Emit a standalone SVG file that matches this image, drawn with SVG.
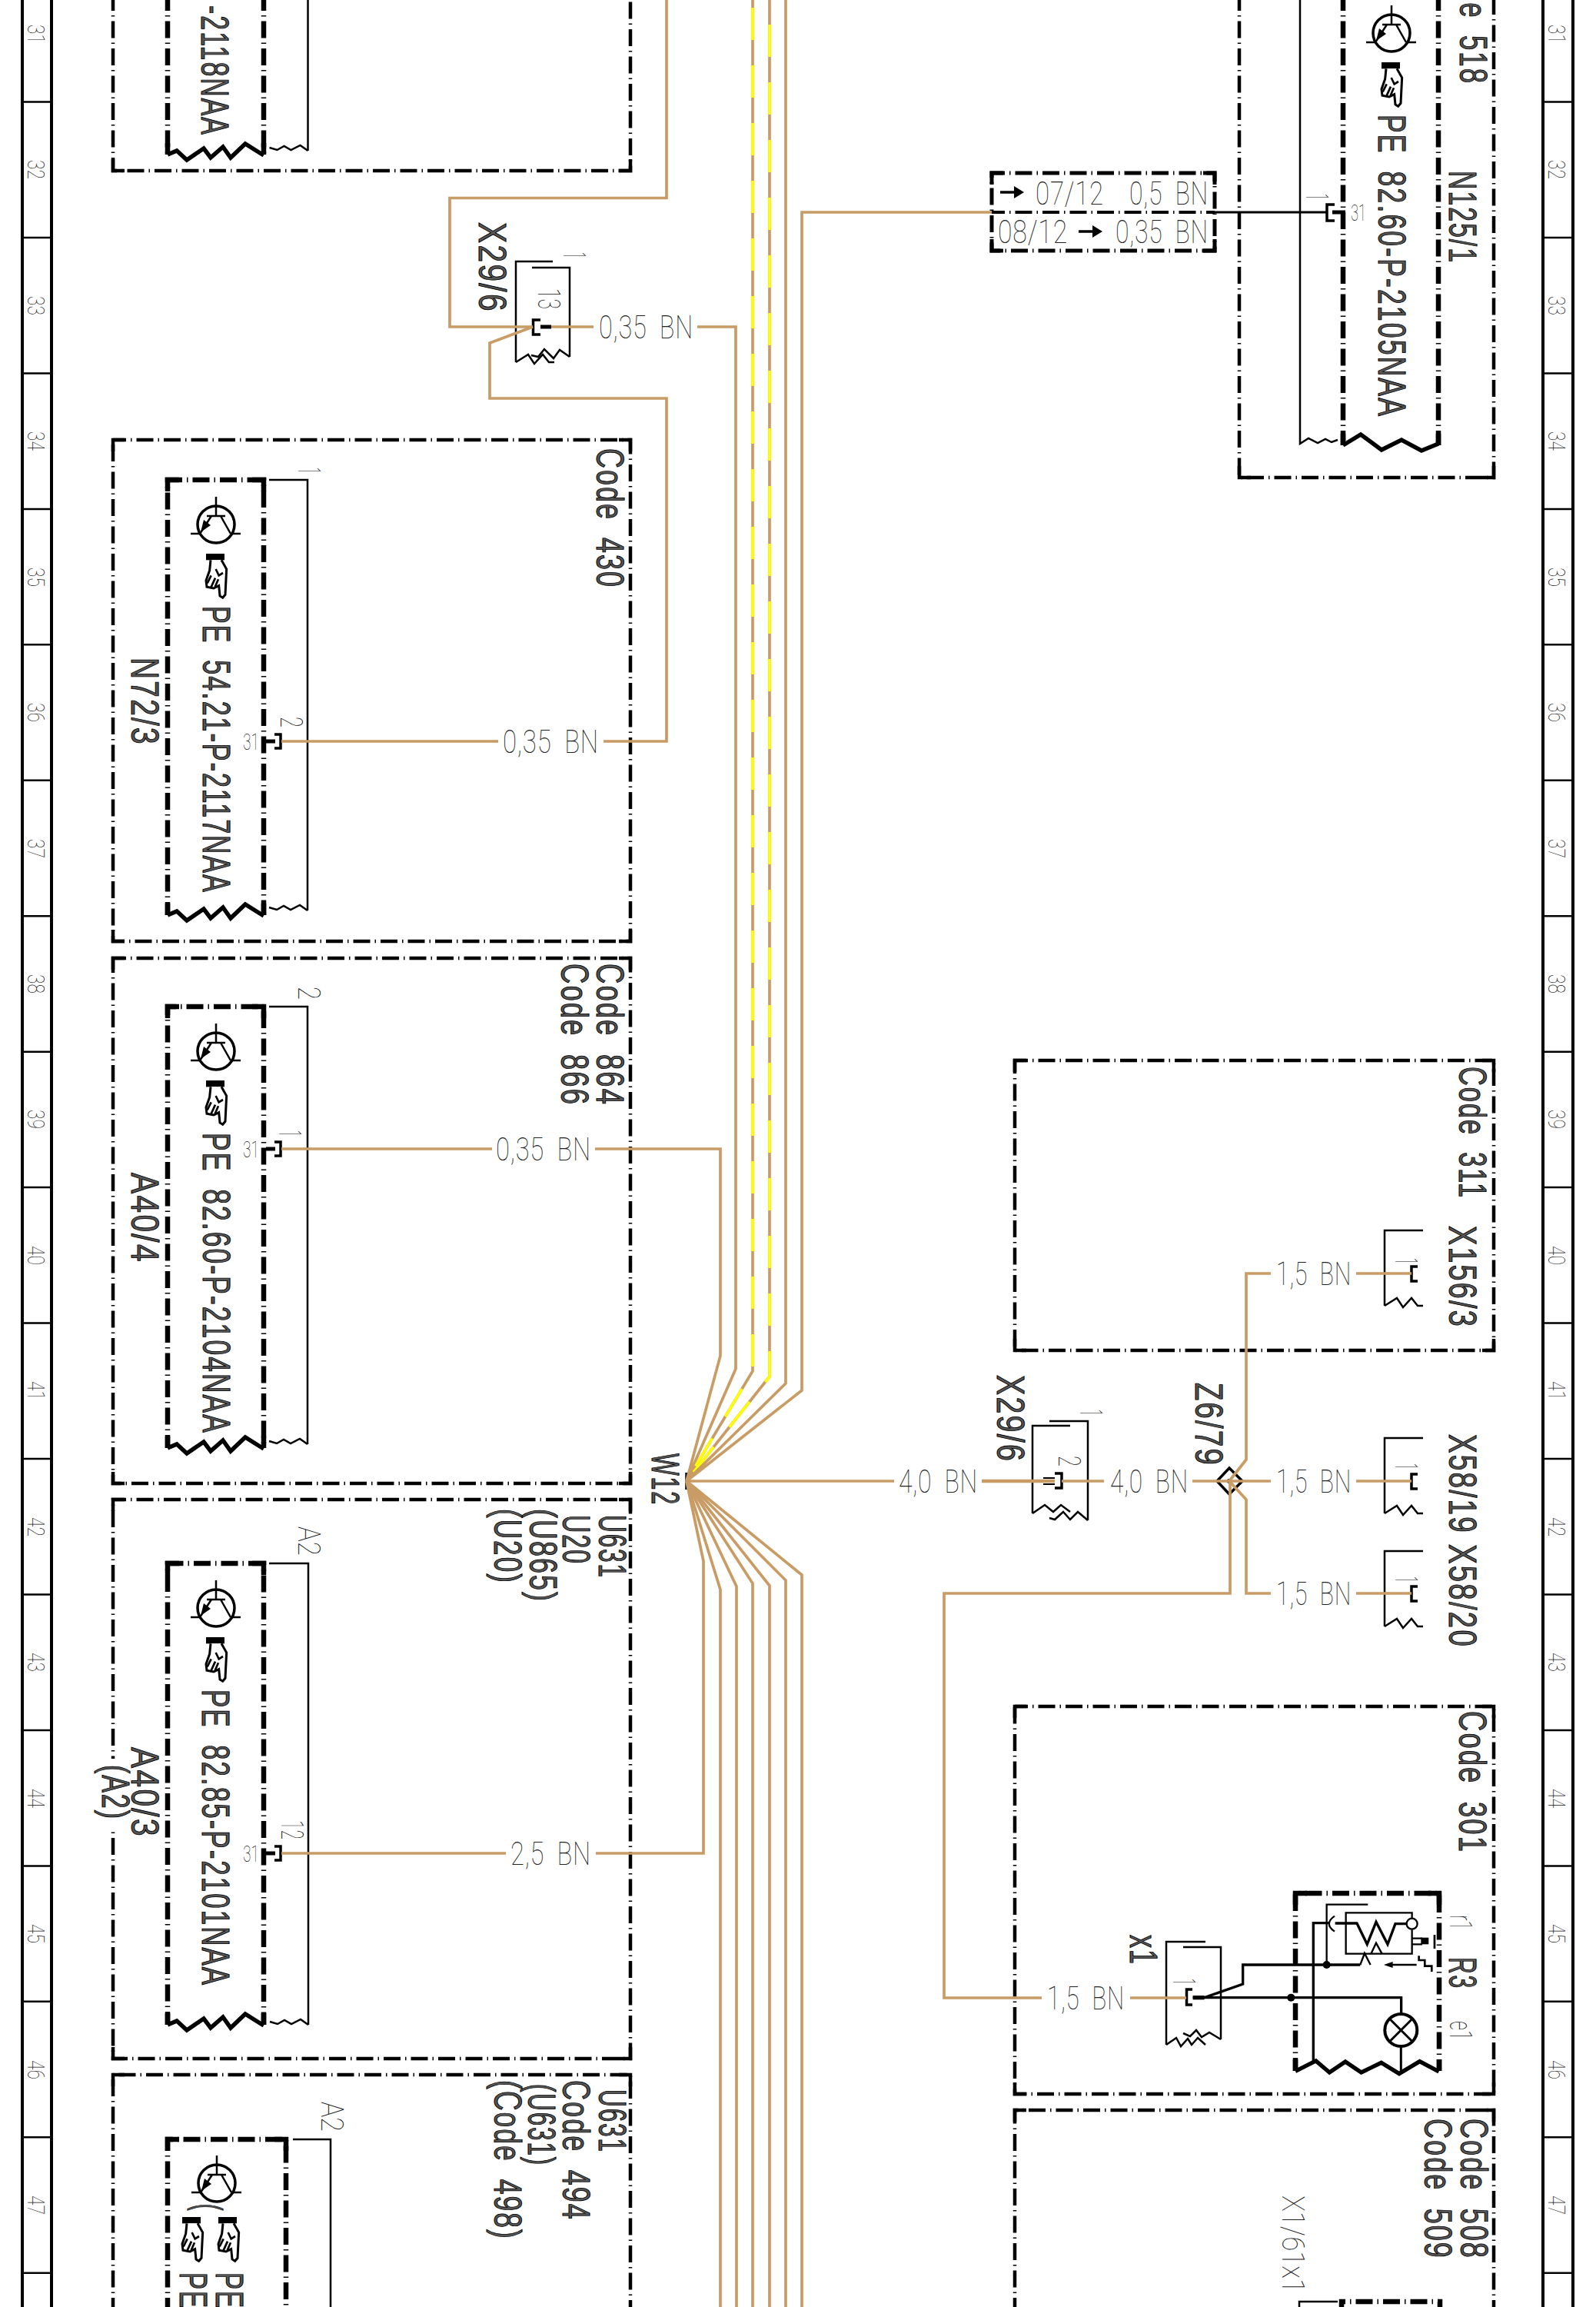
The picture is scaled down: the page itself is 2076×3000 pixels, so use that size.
<svg xmlns="http://www.w3.org/2000/svg" xmlns:xlink="http://www.w3.org/1999/xlink" width="2076" height="3000" viewBox="0 0 2076 3000">
<style>
text{font-family:"Liberation Sans",Arial,sans-serif}
.b{font-size:50px;fill:#555;stroke:#000;stroke-width:1;letter-spacing:3px;word-spacing:14px}
.t{font-family:Roboto,"Liberation Sans",sans-serif;font-weight:100;font-size:42px;fill:#222;letter-spacing:1px;word-spacing:10px}
.g{font-family:Roboto,"Liberation Sans",sans-serif;font-weight:100;font-size:31px;fill:#222}
.n{font-family:Roboto,"Liberation Sans",sans-serif;font-weight:100;font-size:40px;fill:#222}
.k{fill:none;stroke:#000;stroke-width:2.5}
.ob{fill:none;stroke:#000;stroke-width:4.5;stroke-dasharray:22 6 1.5 6;stroke-dashoffset:5}
.ib{fill:none;stroke:#000;stroke-width:6.5;stroke-dasharray:22 6 1.5 6;stroke-dashoffset:5}
.oc{fill:none;stroke:#000;stroke-width:4.5}
.ic{fill:none;stroke:#000;stroke-width:6.5}
.z{fill:none;stroke:#000;stroke-width:5.5}
.w{fill:none;stroke:#c99c66;stroke-width:3.7}
.w2{fill:none;stroke:#c99c66;stroke-width:4.5}
.y{fill:none;stroke:#ff0;stroke-width:3.7;stroke-dasharray:42 33}
.bar{fill:none;stroke:#000;stroke-width:3.5}
.tab{fill:none;stroke:#000;stroke-width:5}
</style>
<defs>
<g id="tr">
<circle r="24" fill="none" stroke="#000" stroke-width="3.5"/>
<path d="M0,-36V-11M-12,-11H12M-6,-11L-21,12M6,-11L19,12M-33,12H-21M19,12H32" fill="none" stroke="#000" stroke-width="2.5"/>
<path d="M-20,10L-16,-6L-7,1Z" fill="#000"/>
</g>
<g id="hand" transform="scale(.3333)">
<rect x="0" y="0" width="72" height="25" fill="#000"/>
<path d="M18,25L14,65L0,105L3,130L30,135L50,125L54,165L65,172L75,160L78,100L80,60L60,25" fill="#fff" stroke="#000" stroke-width="9"/>
<path d="M20,85L5,115M36,95L20,130M48,100L35,130M38,60L50,85L66,75" fill="none" stroke="#000" stroke-width="8"/>
</g>
<path id="zz" d="M0,0L12,-5L25,7L47,-8L56,4L72,-10L82,4L101,-14L125,1" class="z"/>
<path id="tz" d="M0,0L-10,-7L-22,-1L-31,-6L-40,-1L-50,-4" class="k"/>
<path id="sz" d="M0,0L16,-10L24,2L35,-10L43,0H50" class="k"/>
<g id="pin"><path d="M346,0H358" class="tab"/><path d="M357,-9H365V9H357" class="bar"/></g>
</defs>

<g id="frame-left">
<path d="M29,0V3000M67,0V3000" fill="none" stroke="#000" stroke-width="4"/>
<path d="M29,132.5H67M29,309H67M29,485.4H67M29,661.9H67M29,838.3H67M29,1014.8H67M29,1191.2H67M29,1367.7H67M29,1544.1H67M29,1720.6H67M29,1897H67M29,2073.5H67M29,2249.9H67M29,2426.4H67M29,2602.8H67M29,2779.3H67M29,2955.7H67" fill="none" stroke="#000" stroke-width="2.5"/>
<g class="grid">
<text class="g" transform="translate(36,32) rotate(90)" textLength="25" lengthAdjust="spacingAndGlyphs">31</text>
<text class="g" transform="translate(36,208) rotate(90)" textLength="25" lengthAdjust="spacingAndGlyphs">32</text>
<text class="g" transform="translate(36,385) rotate(90)" textLength="25" lengthAdjust="spacingAndGlyphs">33</text>
<text class="g" transform="translate(36,561) rotate(90)" textLength="25" lengthAdjust="spacingAndGlyphs">34</text>
<text class="g" transform="translate(36,738) rotate(90)" textLength="25" lengthAdjust="spacingAndGlyphs">35</text>
<text class="g" transform="translate(36,914) rotate(90)" textLength="25" lengthAdjust="spacingAndGlyphs">36</text>
<text class="g" transform="translate(36,1091) rotate(90)" textLength="25" lengthAdjust="spacingAndGlyphs">37</text>
<text class="g" transform="translate(36,1267) rotate(90)" textLength="25" lengthAdjust="spacingAndGlyphs">38</text>
<text class="g" transform="translate(36,1443) rotate(90)" textLength="25" lengthAdjust="spacingAndGlyphs">39</text>
<text class="g" transform="translate(36,1620) rotate(90)" textLength="25" lengthAdjust="spacingAndGlyphs">40</text>
<text class="g" transform="translate(36,1796) rotate(90)" textLength="25" lengthAdjust="spacingAndGlyphs">41</text>
<text class="g" transform="translate(36,1973) rotate(90)" textLength="25" lengthAdjust="spacingAndGlyphs">42</text>
<text class="g" transform="translate(36,2149) rotate(90)" textLength="25" lengthAdjust="spacingAndGlyphs">43</text>
<text class="g" transform="translate(36,2326) rotate(90)" textLength="25" lengthAdjust="spacingAndGlyphs">44</text>
<text class="g" transform="translate(36,2502) rotate(90)" textLength="25" lengthAdjust="spacingAndGlyphs">45</text>
<text class="g" transform="translate(36,2679) rotate(90)" textLength="25" lengthAdjust="spacingAndGlyphs">46</text>
<text class="g" transform="translate(36,2855) rotate(90)" textLength="25" lengthAdjust="spacingAndGlyphs">47</text>
</g>
</g>

<g id="frame-right">
<path d="M2046,0V3000M2007,0V3000" fill="none" stroke="#000" stroke-width="4"/>
<path d="M2007,132.5H2046M2007,309H2046M2007,485.4H2046M2007,661.9H2046M2007,838.3H2046M2007,1014.8H2046M2007,1191.2H2046M2007,1367.7H2046M2007,1544.1H2046M2007,1720.6H2046M2007,1897H2046M2007,2073.5H2046M2007,2249.9H2046M2007,2426.4H2046M2007,2602.8H2046M2007,2779.3H2046M2007,2955.7H2046" fill="none" stroke="#000" stroke-width="2.5"/>
<g class="grid">
<text class="g" transform="translate(2014,32) rotate(90)" textLength="25" lengthAdjust="spacingAndGlyphs">31</text>
<text class="g" transform="translate(2014,208) rotate(90)" textLength="25" lengthAdjust="spacingAndGlyphs">32</text>
<text class="g" transform="translate(2014,385) rotate(90)" textLength="25" lengthAdjust="spacingAndGlyphs">33</text>
<text class="g" transform="translate(2014,561) rotate(90)" textLength="25" lengthAdjust="spacingAndGlyphs">34</text>
<text class="g" transform="translate(2014,738) rotate(90)" textLength="25" lengthAdjust="spacingAndGlyphs">35</text>
<text class="g" transform="translate(2014,914) rotate(90)" textLength="25" lengthAdjust="spacingAndGlyphs">36</text>
<text class="g" transform="translate(2014,1091) rotate(90)" textLength="25" lengthAdjust="spacingAndGlyphs">37</text>
<text class="g" transform="translate(2014,1267) rotate(90)" textLength="25" lengthAdjust="spacingAndGlyphs">38</text>
<text class="g" transform="translate(2014,1443) rotate(90)" textLength="25" lengthAdjust="spacingAndGlyphs">39</text>
<text class="g" transform="translate(2014,1620) rotate(90)" textLength="25" lengthAdjust="spacingAndGlyphs">40</text>
<text class="g" transform="translate(2014,1796) rotate(90)" textLength="25" lengthAdjust="spacingAndGlyphs">41</text>
<text class="g" transform="translate(2014,1973) rotate(90)" textLength="25" lengthAdjust="spacingAndGlyphs">42</text>
<text class="g" transform="translate(2014,2149) rotate(90)" textLength="25" lengthAdjust="spacingAndGlyphs">43</text>
<text class="g" transform="translate(2014,2326) rotate(90)" textLength="25" lengthAdjust="spacingAndGlyphs">44</text>
<text class="g" transform="translate(2014,2502) rotate(90)" textLength="25" lengthAdjust="spacingAndGlyphs">45</text>
<text class="g" transform="translate(2014,2679) rotate(90)" textLength="25" lengthAdjust="spacingAndGlyphs">46</text>
<text class="g" transform="translate(2014,2855) rotate(90)" textLength="25" lengthAdjust="spacingAndGlyphs">47</text>
</g>
</g>

<g id="N2118">
<path class="ob" d="M147,-3V222H820V-3"/>
<path class="oc" d="M147,207V222H162M805,222H820V207"/>
<path class="ib" d="M218,-3V201M343,-3V201"/>
<path class="ic" d="M218,186V201M343,186V201"/>
<use xlink:href="#zz" href="#zz" x="218" y="201"/>
<path class="k" d="M400.5,-3V196"/>
<use xlink:href="#tz" href="#tz" x="400.5" y="196"/>
<text class="b" transform="translate(262,7) rotate(90)" textLength="170" lengthAdjust="spacingAndGlyphs">-2118NAA</text>
</g>

<g id="X29-6">
<path class="k" d="M719,340H671V471"/>
<use xlink:href="#sz" href="#sz" x="671" y="471"/>
<path class="k" d="M692,348H741V464"/>
<path class="k" d="M741,464L728,455L720,466L708,454L700,464L691,462"/>
<path d="M703,416H693.5V435H703" class="bar"/>
<path d="M703,425H717" class="tab"/>
<text class="n" transform="translate(700,375) rotate(90)" textLength="27" lengthAdjust="spacingAndGlyphs">13</text>
<text class="n" transform="translate(733,328) rotate(90)" textLength="8" lengthAdjust="spacingAndGlyphs">1</text>
<text class="b" transform="translate(623,289) rotate(90)" textLength="118" lengthAdjust="spacingAndGlyphs">X29/6</text>
</g>

<g id="N72-3">
<path class="ob" d="M147,572H820V1224H147Z"/>
<path class="oc" d="M147,587V572H162M805,572H820V587M147,1209V1224H162M805,1224H820V1209"/>
<path class="ib" d="M218,1190V624H343V1190"/>
<path class="ic" d="M218,639V624H233M328,624H343V639M218,1175V1190M343,1175V1190"/>
<use xlink:href="#zz" href="#zz" x="218" y="1190"/>
<path class="k" d="M350,624H400V1184"/>
<use xlink:href="#tz" href="#tz" x="400" y="1184"/>
<use xlink:href="#tr" href="#tr" x="281" y="682"/>
<use xlink:href="#hand" href="#hand" transform="translate(268,720)"/>
<use xlink:href="#pin" href="#pin" y="964"/>
<text class="b" transform="translate(264,788) rotate(90)" textLength="374" lengthAdjust="spacingAndGlyphs">PE 54.21-P-2117NAA</text>
<text class="b" transform="translate(776,583) rotate(90)" textLength="182" lengthAdjust="spacingAndGlyphs">Code 430</text>
<text class="b" transform="translate(171,855) rotate(90)" textLength="115" lengthAdjust="spacingAndGlyphs">N72/3</text>
<text class="n" transform="translate(388,608) rotate(90)" textLength="8" lengthAdjust="spacingAndGlyphs">1</text>
<text class="n" transform="translate(365,932) rotate(90)" textLength="14" lengthAdjust="spacingAndGlyphs">2</text>
<text class="n" x="316" y="975" style="font-size:30px" textLength="21" lengthAdjust="spacingAndGlyphs">31</text>
</g>

<g id="A40-4">
<path class="ob" d="M147,1246H820V1929H147Z"/>
<path class="oc" d="M147,1261V1246H162M805,1246H820V1261M147,1914V1929H162M805,1929H820V1914"/>
<path class="ib" d="M218,1883V1309H343V1883"/>
<path class="ic" d="M218,1324V1309H233M328,1309H343V1324M218,1868V1883M343,1868V1883"/>
<use xlink:href="#zz" href="#zz" x="218" y="1883"/>
<path class="k" d="M350,1309H400V1878"/>
<use xlink:href="#tz" href="#tz" x="400" y="1878"/>
<use xlink:href="#tr" href="#tr" x="281" y="1367"/>
<use xlink:href="#hand" href="#hand" transform="translate(268,1405)"/>
<use xlink:href="#pin" href="#pin" y="1494"/>
<text class="b" transform="translate(264,1473) rotate(90)" textLength="392" lengthAdjust="spacingAndGlyphs">PE 82.60-P-2104NAA</text>
<text class="b" transform="translate(776,1253) rotate(90)" textLength="185" lengthAdjust="spacingAndGlyphs">Code 864</text>
<text class="b" transform="translate(730,1253) rotate(90)" textLength="185" lengthAdjust="spacingAndGlyphs">Code 866</text>
<text class="b" transform="translate(171,1525) rotate(90)" textLength="118" lengthAdjust="spacingAndGlyphs">A40/4</text>
<text class="n" transform="translate(388,1283) rotate(90)" textLength="17" lengthAdjust="spacingAndGlyphs">2</text>
<text class="n" transform="translate(363,1470) rotate(90)" textLength="8" lengthAdjust="spacingAndGlyphs">1</text>
<text class="n" x="316" y="1505" style="font-size:30px" textLength="21" lengthAdjust="spacingAndGlyphs">31</text>
</g>

<g id="A40-3">
<path class="ob" d="M147,1950H820V2677H147Z"/>
<path class="oc" d="M147,1965V1950H162M805,1950H820V1965M147,2662V2677H162M805,2677H820V2662"/>
<rect x="140" y="2287" width="14" height="90" fill="#fff"/>
<path class="ib" d="M218,2633V2033H343V2633"/>
<path class="ic" d="M218,2048V2033H233M328,2033H343V2048M218,2618V2633M343,2618V2633"/>
<use xlink:href="#zz" href="#zz" x="218" y="2633"/>
<path class="k" d="M350,2033H401V2633"/>
<use xlink:href="#tz" href="#tz" x="401" y="2633"/>
<use xlink:href="#tr" href="#tr" x="281" y="2091"/>
<use xlink:href="#hand" href="#hand" transform="translate(268,2129)"/>
<use xlink:href="#pin" href="#pin" y="2410"/>
<text class="b" transform="translate(263,2197) rotate(90)" textLength="386" lengthAdjust="spacingAndGlyphs">PE 82.85-P-2101NAA</text>
<text class="b" transform="translate(779,1970) rotate(90)" textLength="83" lengthAdjust="spacingAndGlyphs">U631</text>
<text class="b" transform="translate(732,1970) rotate(90)" textLength="65" lengthAdjust="spacingAndGlyphs">U20</text>
<text class="b" transform="translate(689,1962) rotate(90)" textLength="122" lengthAdjust="spacingAndGlyphs">(U865)</text>
<text class="b" transform="translate(643,1962) rotate(90)" textLength="98" lengthAdjust="spacingAndGlyphs">(U20)</text>
<text class="b" transform="translate(171,2272) rotate(90)" textLength="118" lengthAdjust="spacingAndGlyphs">A40/3</text>
<text class="b" transform="translate(133,2295) rotate(90)" textLength="72" lengthAdjust="spacingAndGlyphs">(A2)</text>
<text class="n" transform="translate(388,1985) rotate(90)" textLength="38" lengthAdjust="spacingAndGlyphs">A2</text>
<text class="n" transform="translate(366,2367) rotate(90)" textLength="25" lengthAdjust="spacingAndGlyphs">12</text>
<text class="n" x="316" y="2421" style="font-size:30px" textLength="21" lengthAdjust="spacingAndGlyphs">31</text>
</g>

<g id="U631-bottom">
<path class="ob" d="M147,3005V2698H820V3005"/>
<path class="oc" d="M147,2713V2698H162M805,2698H820V2713"/>
<path class="ib" d="M218,3005V2782H372V3005"/>
<path class="ic" d="M218,2797V2782H233M357,2782H372V2797"/>
<path class="k" d="M381,2782H430V3005"/>
<use xlink:href="#tr" href="#tr" x="282" y="2839"/>
<use xlink:href="#hand" href="#hand" transform="translate(237,2883)"/>
<use xlink:href="#hand" href="#hand" transform="translate(284,2883)"/>
<text class="b" transform="translate(254,2866) rotate(90)" textLength="10" lengthAdjust="spacingAndGlyphs">(</text>
<text class="b" transform="translate(234,2955) rotate(90)" textLength="48" lengthAdjust="spacingAndGlyphs">PE</text>
<text class="b" transform="translate(281,2955) rotate(90)" textLength="48" lengthAdjust="spacingAndGlyphs">PE</text>
<text class="b" transform="translate(779,2717) rotate(90)" textLength="83" lengthAdjust="spacingAndGlyphs">U631</text>
<text class="b" transform="translate(732,2705) rotate(90)" textLength="183" lengthAdjust="spacingAndGlyphs">Code 494</text>
<text class="b" transform="translate(687,2710) rotate(90)" textLength="107" lengthAdjust="spacingAndGlyphs">(U631)</text>
<text class="b" transform="translate(643,2705) rotate(90)" textLength="208" lengthAdjust="spacingAndGlyphs">(Code 498)</text>
<text class="n" transform="translate(418,2733) rotate(90)" textLength="39" lengthAdjust="spacingAndGlyphs">A2</text>
</g>

<g id="W12">
<path d="M893,1915V1937" class="bar"/>
<text class="b" transform="translate(848,1890) rotate(90)" textLength="68" lengthAdjust="spacingAndGlyphs">W12</text>
</g>

<g id="junction">
<path class="ib" style="stroke-width:5" d="M1290,225H1580V326H1290Z"/>
<path class="ib" style="stroke-width:4" d="M1290,276H1580"/>
<path class="oc" style="stroke-width:5" d="M1290,240V225H1305M1565,225H1580V240M1290,311V326H1305M1565,326H1580V311"/>
<path d="M1301,250H1322" fill="none" stroke="#000" stroke-width="3.5"/><path d="M1319,242L1332,250L1319,258Z"/>
<path d="M1403,301H1424" fill="none" stroke="#000" stroke-width="3.5"/><path d="M1421,293L1434,301L1421,309Z"/>
<text class="t" x="1347" y="266" textLength="89" lengthAdjust="spacingAndGlyphs">07/12</text>
<text class="t" x="1469" y="266" textLength="103" lengthAdjust="spacingAndGlyphs">0,5 BN</text>
<text class="t" x="1298" y="316" textLength="91" lengthAdjust="spacingAndGlyphs">08/12</text>
<text class="t" x="1451" y="316" textLength="121" lengthAdjust="spacingAndGlyphs">0,35 BN</text>
</g>

<g id="N125-1">
<path class="ob" d="M1612,-3V621H1943V-3"/>
<path class="oc" d="M1612,606V621H1627M1928,621H1943V606"/>
<path class="ib" d="M1747,-3V579M1871,-3V579"/>
<path class="ic" d="M1747,564V579M1871,564V579"/>
<path class="z" d="M1747,579L1770,565L1797,585L1823,572L1849,586L1871,577"/>
<path class="k" d="M1691,-3V577L1702,570L1714,576L1724,571L1732,575L1740,572"/>
<use xlink:href="#tr" href="#tr" x="1810" y="43"/>
<use xlink:href="#hand" href="#hand" transform="translate(1797,81)"/>
<path d="M1580,276H1727" fill="none" stroke="#000" stroke-width="3"/>
<path d="M1736,266H1726V287H1736" class="bar"/>
<path d="M1733,276H1750" class="tab"/>
<text class="b" transform="translate(1793,149) rotate(90)" textLength="394" lengthAdjust="spacingAndGlyphs">PE 82.60-P-2105NAA</text>
<text class="b" transform="translate(1885,222) rotate(90)" textLength="121" lengthAdjust="spacingAndGlyphs">N125/1</text>
<text class="b" transform="translate(1899,-18) rotate(90)" textLength="128" lengthAdjust="spacingAndGlyphs">de 518</text>
<text class="n" transform="translate(1699,252) rotate(90)" textLength="8" lengthAdjust="spacingAndGlyphs">1</text>
<text class="n" x="1757" y="287" style="font-size:30px" textLength="20" lengthAdjust="spacingAndGlyphs">31</text>
</g>

<g id="Code311">
<path class="ob" d="M1320,1379H1943V1756H1320Z"/>
<path class="oc" d="M1320,1394V1379H1335M1928,1379H1943V1394M1320,1741V1756H1335M1928,1756H1943V1741"/>
<text class="b" transform="translate(1898,1387) rotate(90)" textLength="172" lengthAdjust="spacingAndGlyphs">Code 311</text>
</g>

<g id="X156-3">
<path class="k" d="M1851,1600H1801V1698"/>
<use xlink:href="#sz" href="#sz" x="1801" y="1698"/>
<path d="M1844,1647H1836V1666H1844" class="bar"/>
<text class="n" transform="translate(1815,1636) rotate(90)" textLength="8" lengthAdjust="spacingAndGlyphs">1</text>
<text class="b" transform="translate(1885,1594) rotate(90)" textLength="133" lengthAdjust="spacingAndGlyphs">X156/3</text>
</g>

<g id="X58-19">
<path class="k" d="M1851,1870H1801V1968"/>
<use xlink:href="#sz" href="#sz" x="1801" y="1968"/>
<path d="M1844,1917H1836V1936H1844" class="bar"/>
<text class="n" transform="translate(1815,1903) rotate(90)" textLength="8" lengthAdjust="spacingAndGlyphs">1</text>
<text class="b" transform="translate(1885,1865) rotate(90)" textLength="130" lengthAdjust="spacingAndGlyphs">X58/19</text>
</g>

<g id="X58-20">
<path class="k" d="M1851,2017H1801V2115"/>
<use xlink:href="#sz" href="#sz" x="1801" y="2115"/>
<path d="M1844,2063H1836V2082H1844" class="bar"/>
<text class="n" transform="translate(1815,2050) rotate(90)" textLength="8" lengthAdjust="spacingAndGlyphs">1</text>
<text class="b" transform="translate(1885,2008) rotate(90)" textLength="135" lengthAdjust="spacingAndGlyphs">X58/20</text>
</g>

<g id="Z6-79">
<path d="M1599,1909L1616,1926L1599,1943L1583,1926Z" fill="none" stroke="#000" stroke-width="3.5"/>
<circle cx="1599" cy="1926" r="3" fill="#000"/>
<text class="b" transform="translate(1555,1798) rotate(90)" textLength="109" lengthAdjust="spacingAndGlyphs">Z6/79</text>
</g>

<g id="X29-6b">
<path class="k" d="M1392,1854H1343V1968"/>
<path class="k" d="M1343,1968L1359,1957L1370,1966L1380,1957L1392,1966"/>
<path class="k" d="M1365,1848H1415V1977"/>
<path class="k" d="M1415,1977L1402,1966L1392,1976L1383,1966L1372,1976L1365,1974"/>
<path d="M1372,1916H1381V1935H1372" class="bar"/>
<path d="M1357,1922H1372M1357,1930H1372" fill="none" stroke="#000" stroke-width="2"/>
<text class="n" transform="translate(1377,1893) rotate(90)" textLength="14" lengthAdjust="spacingAndGlyphs">2</text>
<text class="n" transform="translate(1405,1833) rotate(90)" textLength="8" lengthAdjust="spacingAndGlyphs">1</text>
<text class="b" transform="translate(1297,1788) rotate(90)" textLength="114" lengthAdjust="spacingAndGlyphs">X29/6</text>
</g>

<g id="Code301">
<path class="ob" d="M1320,2219H1943V2723H1320Z"/>
<path class="oc" d="M1320,2234V2219H1335M1928,2219H1943V2234M1320,2708V2723H1335M1928,2723H1943V2708"/>
<text class="b" transform="translate(1898,2225) rotate(90)" textLength="185" lengthAdjust="spacingAndGlyphs">Code 301</text>
</g>

<g id="x1">
<path class="k" d="M1568,2525H1517V2659"/>
<path class="k" d="M1517,2659L1530,2650L1536,2661L1545,2651L1550,2659L1558,2650L1568,2659"/>
<path class="k" d="M1539,2532H1588V2652"/>
<path class="k" d="M1588,2652L1573,2643L1563,2649L1556,2640L1548,2648L1539,2644"/>
<path d="M1551,2587H1543.5V2607H1551" class="bar"/>
<text class="n" transform="translate(1526,2573) rotate(90)" textLength="8" lengthAdjust="spacingAndGlyphs">1</text>
<text class="b" transform="translate(1470,2516) rotate(90)" textLength="40" lengthAdjust="spacingAndGlyphs">x1</text>
</g>

<g id="R3">
<path class="ib" d="M1685,2693V2462H1872V2693"/>
<path class="ic" d="M1685,2477V2462H1700M1857,2462H1872V2477M1685,2678V2693M1872,2678V2693"/>
<g transform="translate(1500,2450) scale(.3333)" fill="none" stroke="#000">
<path d="M555,730L635,690L688,735L750,693L812,735L890,697L960,740L1040,692L1115,732" stroke-width="16"/>
<path d="M155,443H968V505M200,443L350,390V315H808" stroke-width="10"/>
<path d="M155,443H200" stroke-width="16"/>
<path d="M625,690V152H685" stroke-width="10"/>
<path d="M677,315V80H838" stroke-width="7"/>
<path d="M708,125Q665,155 708,185" stroke-width="7"/>
<path d="M710,153H795L835,235L870,148L915,235L945,155H988" stroke-width="10"/>
<circle cx="1010" cy="155" r="21" stroke-width="7"/>
<path d="M1010,135V112H752V272H1010V178" stroke-width="7"/>
<path d="M808,315L825,270L848,315M850,272L870,230L893,272" stroke-width="7"/>
<path d="M1028,315H920" stroke-width="7"/>
<path d="M900,315L935,303V327Z" fill="#000" stroke="none"/>
<path d="M1037,280V297H1060V320H1087V342" stroke-width="8"/>
<path d="M1010,212H1050M1010,235H1050" stroke-width="7"/>
<path d="M1045,222H1075" stroke-width="26"/>
<path d="M1098,198V252" stroke-width="8"/>
<circle cx="967" cy="570" r="63" stroke-width="12"/>
<path d="M922,525L1012,615M1012,525L922,615M967,633V740" stroke-width="9"/>
<circle cx="677" cy="315" r="15" fill="#000" stroke="none"/>
<circle cx="538" cy="443" r="15" fill="#000" stroke="none"/>
</g>
<text class="n" transform="translate(1886,2490) rotate(90)" textLength="20" lengthAdjust="spacingAndGlyphs">r1</text>
<text class="b" transform="translate(1885,2545) rotate(90)" textLength="42" lengthAdjust="spacingAndGlyphs">R3</text>
<text class="n" transform="translate(1886,2628) rotate(90)" textLength="25" lengthAdjust="spacingAndGlyphs">e1</text>
</g>

<g id="Code508">
<path class="ob" d="M1320,3005V2744H1943V3005"/>
<path class="oc" d="M1320,2759V2744H1335M1928,2744H1943V2759"/>
<text class="b" transform="translate(1900,2755) rotate(90)" textLength="183" lengthAdjust="spacingAndGlyphs">Code 508</text>
<text class="b" transform="translate(1853,2755) rotate(90)" textLength="183" lengthAdjust="spacingAndGlyphs">Code 509</text>
<text class="n" transform="translate(1668,2855) rotate(90)" textLength="127" lengthAdjust="spacingAndGlyphs">X1/61x1</text>
<path class="k" d="M1690,3005V2993H1740"/>
<path class="ib" d="M1745,3005V2993H1873V3005"/>
</g>

<g id="wire-labels">
<text class="t" x="779" y="440" textLength="123" lengthAdjust="spacingAndGlyphs">0,35 BN</text>
<text class="t" x="654" y="979" textLength="125" lengthAdjust="spacingAndGlyphs">0,35 BN</text>
<text class="t" x="645" y="1509" textLength="124" lengthAdjust="spacingAndGlyphs">0,35 BN</text>
<text class="t" x="664" y="2425" textLength="105" lengthAdjust="spacingAndGlyphs">2,5 BN</text>
<text class="t" x="1169" y="1941" textLength="103" lengthAdjust="spacingAndGlyphs">4,0 BN</text>
<text class="t" x="1444" y="1941" textLength="102" lengthAdjust="spacingAndGlyphs">4,0 BN</text>
<text class="t" x="1660" y="1671" textLength="98" lengthAdjust="spacingAndGlyphs">1,5 BN</text>
<text class="t" x="1660" y="1941" textLength="98" lengthAdjust="spacingAndGlyphs">1,5 BN</text>
<text class="t" x="1660" y="2087" textLength="98" lengthAdjust="spacingAndGlyphs">1,5 BN</text>
<text class="t" x="1362" y="2613" textLength="101" lengthAdjust="spacingAndGlyphs">1,5 BN</text>
</g>

<g id="connectors">
<path class="w" d="M867,-3V257.5H585V425H693"/>
<path class="w" d="M693,425L637,446V518H867V964H785M648,964H366"/>
<path class="w" d="M717,425H772M907,425H957V1780L893,1926"/>
<path class="w" d="M366,1494H640M774,1494H937V1763L893,1926"/>
<path class="w" d="M979,-3V1783L893,1926"/>
<path class="y" style="stroke-dashoffset:65" d="M979,0V1783L893,1926"/>
<path class="w" d="M1001,-3V1790L893,1926"/>
<path class="y" style="stroke-dashoffset:43" d="M1001,0V1790L893,1926"/>
<path class="w" d="M1022,-3V1799L893,1926"/>
<path class="w" d="M1290,276H1043V1808L893,1926"/>
<path class="w" d="M893,1926L915,2030V2410H775M658,2410H366"/>
<path class="w" d="M893,1926L937,2067V3005"/>
<path class="w" d="M893,1926L958,2063V3005"/>
<path class="w" d="M893,1926L979,2059V3005"/>
<path class="w" d="M893,1926L1001,2062V3005"/>
<path class="w" d="M893,1926L1022,2055V3005"/>
<path class="w" d="M893,1926L1043,2048V3005"/>
<path class="w" d="M893,1926H1163"/>
<path class="w2" d="M1277,1926H1372"/>
<path class="w" d="M1381,1926H1436M1551,1926H1653M1764,1926H1836"/>
<path class="w" d="M1599,1926L1621,1898V1656H1653M1764,1656H1836"/>
<path class="w" d="M1599,1926L1621,1950V2072H1653M1764,2072H1836"/>
<path class="w" d="M1600,1926V2072H1228V2598H1355M1470,2598H1543"/>
</g>
</svg>
